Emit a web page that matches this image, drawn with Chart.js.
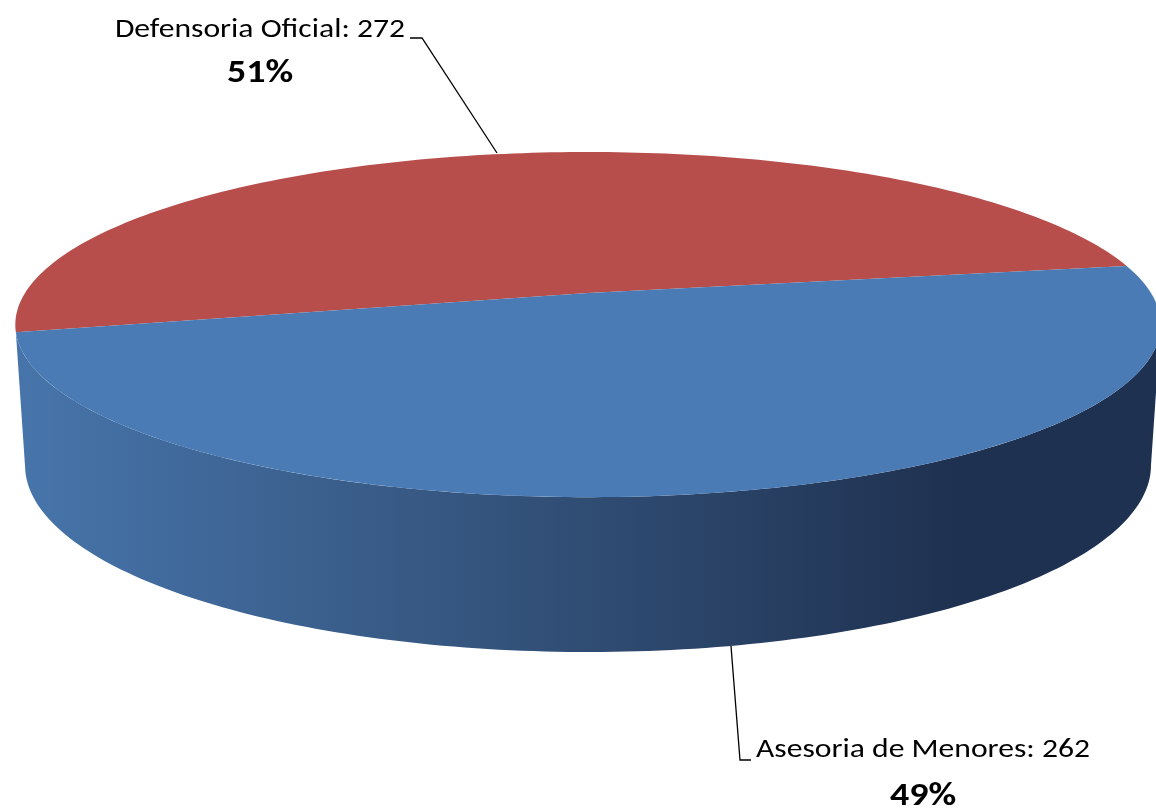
<!DOCTYPE html>
<html>
<head>
<meta charset="utf-8">
<script src="https://cdn.jsdelivr.net/npm/chart.js@4.4.1/dist/chart.umd.min.js"></script>
<style>
    html, body { margin: 0; padding: 0; background: #ffffff; }
    #wrap { width: 1156px; height: 809px; }
</style>
</head>
<body>
<div id="wrap"><canvas id="pie_chart" width="1156" height="809"></canvas></div>
<script>
// data
var labels = ["Defensoria Oficial", "Asesoria de Menores"];
var values = [272, 262];

// styles
var topColors = ["#b74e4b", "#4a7bb5"];
var wallColors = [["#8a3937", "#5c2423"], ["#4775ab", "#34547d", "#1f3150"]];

// perspective of the tilted pie (ratios of the library's outer radius)
var P = 0.183;
var topFace = { kx: 563 / 293, ky: 166.8 / 293, kd: 0 };
var bottomFace = { kx: 553.5 / 293, ky: 155.4 / 293, kd: 137.9 / 293 };

function project(el, ang, face) {
    var R = el.outerRadius;
    var a = Math.cos(ang), b = Math.sin(ang);
    var w = 1 - P * b;
    return {
        x: el.x + R * face.kx * a / w,
        y: el.y + R * (face.ky * b + face.kd) / w
    };
}

// part of [s, e] where the outer wall faces the viewer
function frontRange(s, e) {
    var lo = Math.asin(P), hi = Math.PI - Math.asin(P);
    var out = [];
    for (var k = -1; k <= 2; k++) {
        var a = Math.max(s, lo + k * 2 * Math.PI), b = Math.min(e, hi + k * 2 * Math.PI);
        if (b > a) out.push([a, b]);
    }
    return out;
}

var pie3d = {
    id: 'pie3d',
    beforeDatasetsDraw: function (chart) {
        var ctx = chart.ctx;
        var arcs = chart.getDatasetMeta(0).data;
        var n = 160;
        ctx.save();
        // outer walls
        arcs.forEach(function (el, i) {
            var half = el.outerRadius * topFace.kx * 1.02;
            var g = ctx.createLinearGradient(el.x - half, 0, el.x + half, 0);
            var cols = wallColors[i];
            cols.forEach(function (c, j) {
                g.addColorStop(j / (cols.length - 1) * 0.82, c);
            });
            g.addColorStop(1, cols[cols.length - 1]);
            frontRange(el.startAngle, el.endAngle).forEach(function (r) {
                var s = r[0], e = r[1], k, p;
                ctx.beginPath();
                for (k = 0; k <= n; k++) {
                    p = project(el, s + (e - s) * k / n, topFace);
                    if (k === 0) ctx.moveTo(p.x, p.y); else ctx.lineTo(p.x, p.y);
                }
                for (k = n; k >= 0; k--) {
                    p = project(el, s + (e - s) * k / n, bottomFace);
                    ctx.lineTo(p.x, p.y);
                }
                ctx.closePath();
                ctx.fillStyle = g;
                ctx.fill();
            });
        });
        // top faces
        arcs.forEach(function (el, i) {
            var s = el.startAngle, e = el.endAngle, k, p;
            ctx.beginPath();
            ctx.moveTo(el.x, el.y);
            for (k = 0; k <= n; k++) {
                p = project(el, s + (e - s) * k / n, topFace);
                ctx.lineTo(p.x, p.y);
            }
            ctx.closePath();
            ctx.fillStyle = topColors[i];
            ctx.fill();
        });
        ctx.restore();
        return false;
    }
};

var total = values.reduce(function (a, b) { return a + b; }, 0);

function stretchedText(ctx, text, x, y, sx) {
    ctx.save();
    ctx.translate(x, y);
    ctx.scale(sx, 1);
    ctx.fillText(text, 0, 0);
    ctx.restore();
}

var pieLabels = {
    id: 'pieLabels',
    afterDraw: function (chart) {
        var ctx = chart.ctx;
        ctx.save();
        ctx.strokeStyle = "#000000";
        ctx.lineWidth = 1.3;
        // leader lines
        ctx.beginPath();
        ctx.moveTo(410, 38); ctx.lineTo(422, 38); ctx.lineTo(497, 153);
        ctx.moveTo(731, 646); ctx.lineTo(740, 760); ctx.lineTo(751, 760);
        ctx.stroke();

        var spots = [
            { x: 260, y: 37, py: 82 },
            { x: 923, y: 757, py: 805 }
        ];
        ctx.fillStyle = "#000000";
        ctx.textAlign = "center";
        ctx.textBaseline = "alphabetic";
        spots.forEach(function (s, i) {
            ctx.font = "27.5px Carlito, Calibri, Lato, sans-serif";
            stretchedText(ctx, labels[i] + ": " + values[i], s.x, s.y, 1.15);
            ctx.font = "bold 33px Carlito, Calibri, Lato, sans-serif";
            stretchedText(ctx, Math.round(values[i] / total * 100) + "%", s.x, s.py, 1.15);
        });
        ctx.restore();
    }
};

var pieCanvas = document.getElementById("pie_chart");
var config = {
    type: "pie",
    data: {
        labels: labels,
        datasets: [{
            data: values,
            backgroundColor: topColors,
            borderWidth: 0
        }]
    },
    options: {
        responsive: false,
        animation: false,
        rotation: 257,
        layout: { padding: { left: 20, right: 0, top: 0, bottom: 223 } },
        plugins: {
            legend: { display: false },
            tooltip: { enabled: false }
        }
    },
    plugins: [pie3d, pieLabels]
};

var pie_chart = new Chart(pieCanvas, config);
</script>
</body>
</html>
